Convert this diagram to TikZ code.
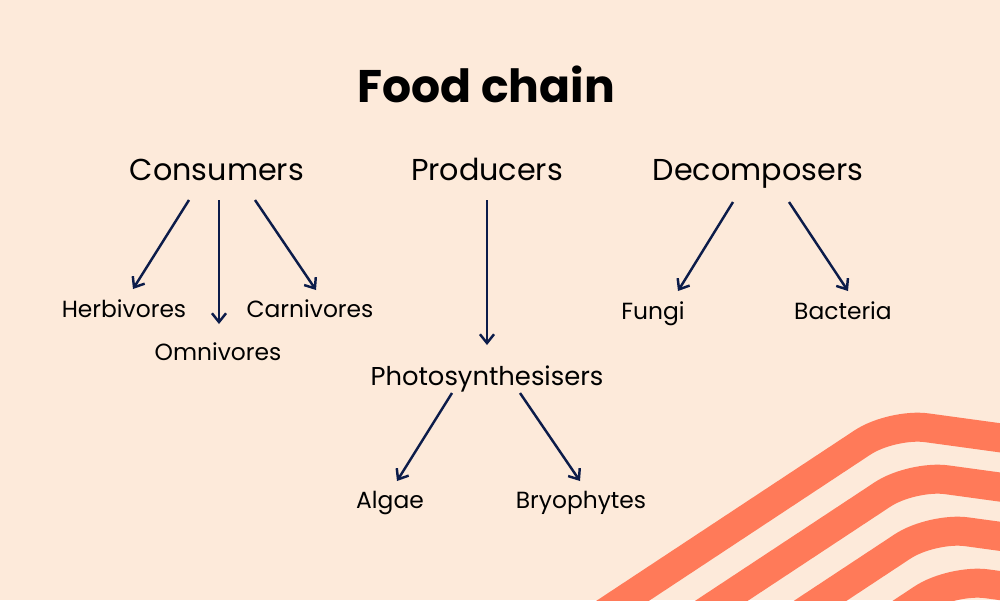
\documentclass[tikz,border=0pt]{standalone}
\usepackage{fontspec}
\setmainfont{Poppins}
\usetikzlibrary{arrows.meta}
\definecolor{bg}{HTML}{FDEADA}
\definecolor{stripe}{HTML}{FF7A59}
\definecolor{navy}{HTML}{0C1C4A}
\tikzset{
  big/.style={font=\fontsize{17.2}{19}\selectfont, anchor=base, inner sep=0pt},
  small/.style={font=\fontsize{13.3}{15}\selectfont, anchor=base, inner sep=0pt},
  mid/.style={font=\fontsize{14.7}{16}\selectfont, anchor=base, inner sep=0pt},
  conn/.style={navy, line width=1.4pt, -{Straight Barb[length=5pt,width=8pt,line width=1.4pt]}},
  band/.style={stripe, line width=16.5pt, rounded corners=20pt}
}
\begin{document}
\begin{tikzpicture}[x=0.02cm,y=-0.02cm]
\fill[bg] (0,0) rectangle (1000,600);
\useasboundingbox (0,0) rectangle (1000,600);
\begin{scope}
\clip (0,0) rectangle (1000,600);
\foreach \i in {0,1,2,3} {
  \draw[band, shift={(20*\i,52*\i)}] (533,660) -- (892,423) -- (1060,446);
}
\end{scope}
\node[font=\bfseries\fontsize{26}{30}\selectfont, anchor=base, inner sep=0pt] (title) at (486,102) {Food chain};
\node[big] (cons) at (217,180) {Consumers};
\node[big] (prod) at (487,180) {Producers};
\node[big] (dec) at (758,180) {Decomposers};
\node[small] (herb) at (124,317) {Herbivores};
\node[small] (omni) at (218,360) {Omnivores};
\node[small] (carn) at (310,317) {Carnivores};
\node[mid] (photo) at (487,385) {Photosynthesisers};
\node[small] (fungi) at (653,319) {Fungi};
\node[small] (bact) at (843,319) {Bacteria};
\node[small] (algae) at (390,508) {Algae};
\node[small] (bryo) at (581,508) {Bryophytes};
\coordinate (c1) at (189,200); \coordinate (c1e) at (133,289);
\coordinate (c2) at (219,200); \coordinate (c2e) at (219,324);
\coordinate (c3) at (255,200); \coordinate (c3e) at (316,290);
\coordinate (p1) at (487,200); \coordinate (p1e) at (487,345);
\coordinate (d1) at (733,202); \coordinate (d1e) at (678,291);
\coordinate (d2) at (789,202); \coordinate (d2e) at (848,291);
\coordinate (s1) at (452,393); \coordinate (s1e) at (397,481);
\coordinate (s2) at (520,393); \coordinate (s2e) at (580,481);
\draw[conn] (c1) -- (c1e);
\draw[conn] (c2) -- (c2e);
\draw[conn] (c3) -- (c3e);
\draw[conn] (p1) -- (p1e);
\draw[conn] (d1) -- (d1e);
\draw[conn] (d2) -- (d2e);
\draw[conn] (s1) -- (s1e);
\draw[conn] (s2) -- (s2e);
\end{tikzpicture}
\end{document}
